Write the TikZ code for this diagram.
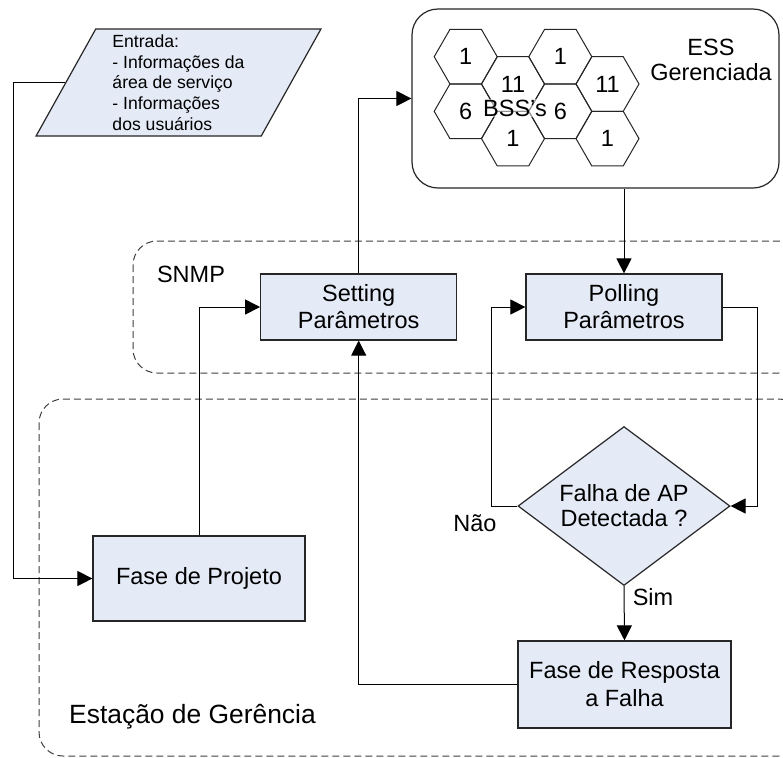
\documentclass[tikz,border=0pt]{standalone}
\usepackage{fontspec}
\setmainfont{Liberation Sans}
\usepackage{xcolor}
\usepackage{tikz}
\usetikzlibrary{shapes.geometric}
\usetikzlibrary{arrows.meta}
\definecolor{azul}{RGB}{228,234,246}
\begin{document}
\begin{tikzpicture}[x=0.5pt,y=-0.5pt,every node/.style={font=\fontsize{11.75}{13.5}\selectfont},bloco/.style={rectangle,draw=black!85,fill=azul,line width=0.6pt,minimum width=98pt,minimum height=33pt,align=center},decisao/.style={diamond,draw=black!85,fill=azul,line width=0.6pt,aspect=1.33,inner sep=0pt,minimum width=106pt,minimum height=79.5pt,align=center,font=\fontsize{11.75}{12.5}\selectfont},entrada/.style={trapezium,trapezium left angle=63.65,trapezium right angle=116.35,trapezium stretches,draw=black!85,fill=azul,line width=0.6pt,minimum width=142.6pt,minimum height=53.5pt,inner sep=0pt,align=left,font=\fontsize{8.8}{10.4}\selectfont},hexa/.style={regular polygon,regular polygon sides=6,draw=black!85,line width=0.5pt,minimum size=31.5pt,inner sep=0pt},grupo/.style={draw=black!75,line width=0.5pt,dash pattern=on 3.5pt off 2pt,rounded corners=12pt},seta/.style={draw=black,line width=0.5pt,-{Triangle[length=7.5pt,width=7.5pt]}}]
            \clip (0,0) rectangle (783,757);
            \fill[white] (0,0) rectangle (783,757);
            \draw[grupo] (133,241) rectangle (803,373);
            \draw[grupo] (39,399) rectangle (803,756);
            \node (snmp) at (191,274) {SNMP};
            \node[font=\fontsize{13.2}{15}\selectfont] (estacao) at (192.5,717) {Estação de Gerência};
            \node[entrada] (dados) at (178.5,82.5) {Entrada:\\- Informações da\\área de serviço\\- Informações\\dos usuários};
            \node[draw=black!85,line width=0.6pt,rounded corners=13pt,minimum width=183.5pt,minimum height=89.5pt] (ess) at (595.5,98.5) {};
            \foreach \cx/\cy/\num [count=\i] in {465.7/56.7/1,465.7/111.3/6,513/84/11,513/138.6/1,560.3/56.7/1,560.3/111.3/6,607.5/84/11,607.5/138.6/1}
              \node[hexa] (hex\i) at (\cx,\cy) {\num};
            \node[fill=white,fill opacity=0.5,text opacity=1,inner sep=0.5pt] (bss) at (515,108) {BSS’s};
            \node[align=center,font=\fontsize{11.75}{12.5}\selectfont] (esstxt) at (711,59.5) {ESS\\Gerenciada};
            \node[bloco] (setting) at (358.7,307) {Setting\\Parâmetros};
            \node[bloco] (polling) at (624,307) {Polling\\Parâmetros};
            \node[decisao] (falha) at (624,506) {Falha de AP\\Detectada ?};
            \node[bloco,minimum width=106pt,minimum height=42.5pt] (projeto) at (199,578.5) {Fase de Projeto};
            \node[bloco,minimum width=106.5pt,minimum height=43.5pt,font=\fontsize{11.75}{14}\selectfont] (resposta) at (624.5,684.5) {Fase de Resposta\\a Falha};
            \node (nao) at (475,523) {Não};
            \node (sim) at (653,597) {Sim};
            \draw[seta] (dados.west) -- ++(-52,0) |- (projeto.west);
            \draw[seta] (projeto.north) |- (setting.west);
            \draw[seta] (setting.north) |- (ess.west);
            \draw[seta] (ess.south -| polling.north) -- (polling.north);
            \draw[seta] (polling.east) -- ++(35,0) |- (falha.east);
            \draw[seta] (falha.west) -- ++(-26,0) |- (polling.west);
            \draw[seta] (falha.south) -- (resposta.north);
            \draw[seta] (resposta.west) -| (setting.south);
          \end{tikzpicture}
\end{document}
